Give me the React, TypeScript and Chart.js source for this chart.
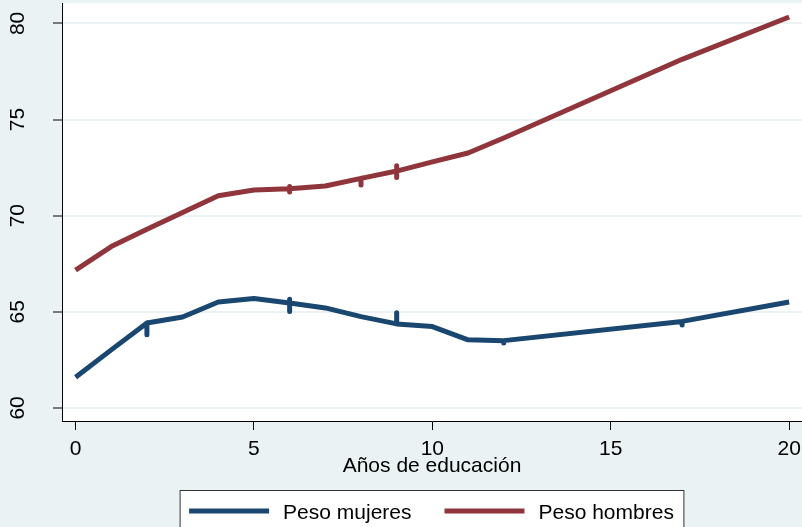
import React, { useEffect, useRef } from "react";
import { Chart, registerables } from "chart.js";

Chart.register(...registerables);

// Years of education (x) and mean weight (y); repeated x values reproduce the small vertical spikes
const womenYears = [0, 1, 2, 2, 2, 3, 4, 5, 6, 6, 6, 6, 7, 8, 9, 9, 9, 10, 11, 12, 12, 12, 17, 17, 17, 20];
const womenWeight = [61.59, 63.02, 64.42, 63.8, 64.42, 64.73, 65.51, 65.69, 65.46, 65.65, 65.01, 65.46, 65.2, 64.75, 64.37, 64.95, 64.37, 64.23, 63.54, 63.5, 63.38, 63.5, 64.5, 64.31, 64.5, 65.51];

const menYears = [0, 1, 2, 3, 4, 5, 6, 6, 6, 6, 7, 8, 8, 8, 9, 9, 9, 9, 10, 11, 12, 17, 20];
const menWeight = [67.17, 68.39, 69.29, 70.17, 71.04, 71.33, 71.4, 71.51, 71.23, 71.4, 71.54, 71.94, 71.59, 71.94, 72.32, 72.6, 71.99, 72.32, 72.8, 73.26, 74.04, 78.13, 80.33];

const seriesLabels = ["Peso mujeres", "Peso hombres"];
const seriesColors = ["#1A476F", "#90353B"];
const xTitle = "Años de educación";

const FONT = "'Liberation Sans', Arial, sans-serif";
const BG = "#EAF2F3";

const bgPlugin = {
  id: "bgPlugin",
  beforeDraw(chart: any) {
    const { ctx, chartArea } = chart;
    ctx.save();
    ctx.fillStyle = BG;
    ctx.fillRect(0, 0, chart.width, chart.height);
    ctx.fillStyle = "#FFFFFF";
    ctx.fillRect(chartArea.left, chartArea.top, chartArea.right - chartArea.left, chartArea.bottom - chartArea.top);
    ctx.restore();
  },
};

const legendPlugin = {
  id: "stataLegend",
  afterDraw(chart: any) {
    const { ctx, chartArea } = chart;
    const ds = chart.data.datasets;
    ctx.save();
    ctx.font = `21px ${FONT}`;
    const padL = 9;
    const sw = 80;
    const gapText = 14;
    const gapItem = 33;
    const padR = 10;
    const widths = ds.map((d: any) => ctx.measureText(d.label).width);
    let total = padL + padR;
    widths.forEach((w: number, i: number) => {
      total += sw + gapText + w + (i > 0 ? gapItem : 0);
    });
    const cx = (chartArea.left + chartArea.right) / 2;
    const left = cx - total / 2;
    const top = 490.5;
    ctx.fillStyle = "#FFFFFF";
    ctx.fillRect(left, top, total, 60);
    ctx.strokeStyle = "#333333";
    ctx.lineWidth = 1;
    ctx.strokeRect(left, top, total, 60);
    let x = left + padL;
    const lineY = 511;
    ds.forEach((d: any, i: number) => {
      if (i > 0) x += gapItem;
      ctx.strokeStyle = d.borderColor;
      ctx.lineWidth = 5;
      ctx.lineCap = "butt";
      ctx.beginPath();
      ctx.moveTo(x, lineY);
      ctx.lineTo(x + sw, lineY);
      ctx.stroke();
      x += sw + gapText;
      ctx.fillStyle = "#000000";
      ctx.textBaseline = "alphabetic";
      ctx.textAlign = "left";
      ctx.fillText(d.label, x, 519);
      x += widths[i];
    });
    ctx.restore();
  },
};

export default function App() {
  const ref = useRef<HTMLCanvasElement | null>(null);

  useEffect(() => {
    if (!ref.current) return;
    Chart.defaults.font.family = FONT;
    const toPoints = (xs: number[], ys: number[]) => xs.map((x, i) => ({ x, y: ys[i] }));
    const chart = new Chart(ref.current, {
      type: "line",
      data: {
        datasets: [
          {
            label: seriesLabels[0],
            data: toPoints(womenYears, womenWeight),
            borderColor: seriesColors[0],
            backgroundColor: seriesColors[0],
            borderWidth: 5,
            pointRadius: 0,
            tension: 0,
            borderJoinStyle: "round",
            borderCapStyle: "butt",
          },
          {
            label: seriesLabels[1],
            data: toPoints(menYears, menWeight),
            borderColor: seriesColors[1],
            backgroundColor: seriesColors[1],
            borderWidth: 5,
            pointRadius: 0,
            tension: 0,
            borderJoinStyle: "round",
            borderCapStyle: "butt",
          },
        ],
      },
      options: {
        responsive: false,
        animation: false,
        devicePixelRatio: 1,
        layout: { padding: { top: 3, left: 0, right: 0, bottom: 0 } },
        plugins: { legend: { display: false }, tooltip: { enabled: false } },
        scales: {
          x: {
            type: "linear",
            min: -0.38,
            max: 20.36,
            afterFit: (s: any) => {
              s.height = 106;
              s.paddingLeft = 0;
              s.paddingRight = 0;
            },
            ticks: {
              stepSize: 5,
              includeBounds: false,
              color: "#000000",
              font: { size: 21 },
              padding: 7,
              maxRotation: 0,
            },
            grid: {
              drawOnChartArea: false,
              drawTicks: true,
              tickLength: 9,
              tickColor: "#000000",
              tickWidth: 1,
            },
            border: { display: true, color: "#000000", width: 1 },
            title: {
              display: true,
              text: xTitle,
              color: "#000000",
              font: { size: 21 },
              padding: { top: 0, bottom: 48 },
            },
          },
          y: {
            type: "linear",
            min: 59.32,
            max: 81.06,
            afterFit: (s: any) => {
              s.width = 62;
              s.paddingTop = 0;
              s.paddingBottom = 0;
            },
            ticks: {
              stepSize: 5,
              includeBounds: false,
              color: "#000000",
              font: { size: 21 },
              minRotation: 90,
              maxRotation: 90,
              crossAlign: "center",
              padding: 23,
            },
            grid: {
              color: BG,
              lineWidth: 2,
              drawTicks: true,
              tickLength: 9,
              tickColor: "#000000",
              tickWidth: 1,
            },
            border: { display: true, color: "#000000", width: 1 },
          },
        },
      },
      plugins: [bgPlugin, legendPlugin],
    } as any);
    return () => chart.destroy();
  }, []);

  return (
    <div style={{ position: "fixed", left: 0, top: 0, width: 802, height: 527 }}>
      <canvas ref={ref} width={802} height={527} style={{ display: "block" }} />
    </div>
  );
}
